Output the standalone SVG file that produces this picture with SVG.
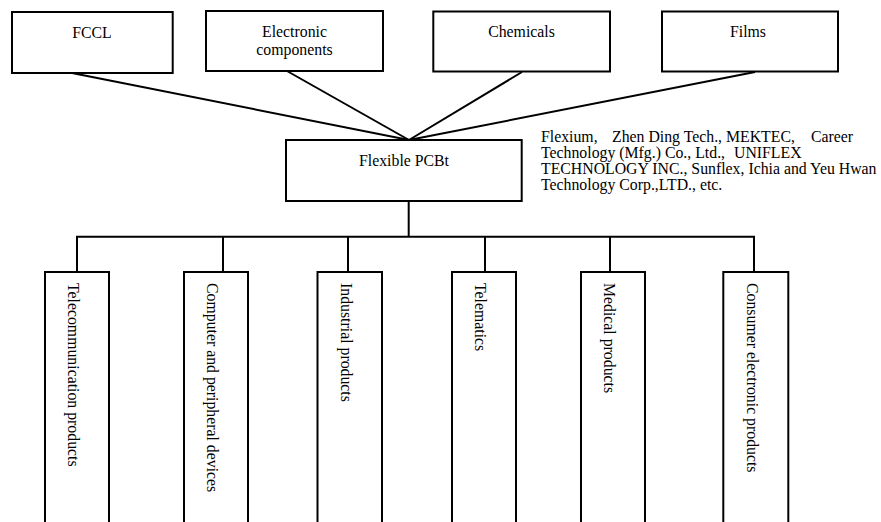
<svg xmlns="http://www.w3.org/2000/svg" width="881" height="522" viewBox="0 0 881 522" font-family="'Liberation Serif', 'DejaVu Serif', serif" font-size="15.8">
<style>
.box{fill:#fff;stroke:#000;stroke-width:2}
.ln{stroke:#000;stroke-width:2;fill:none}
.c{text-anchor:middle}
</style>
<rect width="881" height="522" fill="#fff"/>
<g id="connectors">
<line class="ln" x1="72" y1="73" x2="409" y2="140"/>
<line class="ln" x1="287" y1="71" x2="409" y2="140"/>
<line class="ln" x1="522" y1="72" x2="409" y2="140"/>
<line class="ln" x1="755" y1="72" x2="409" y2="140"/>
<line class="ln" x1="408.7" y1="201" x2="408.7" y2="236.7"/>
<line class="ln" x1="76" y1="236.7" x2="755" y2="236.7"/>
<line class="ln" x1="77" y1="236.7" x2="77" y2="272"/>
<line class="ln" x1="223" y1="236.7" x2="223" y2="272"/>
<line class="ln" x1="348" y1="236.7" x2="348" y2="272"/>
<line class="ln" x1="485" y1="236.7" x2="485" y2="272"/>
<line class="ln" x1="610" y1="236.7" x2="610" y2="272"/>
<line class="ln" x1="754" y1="236.7" x2="754" y2="272"/>
</g>
<g id="fccl"><rect class="box" x="12" y="12" width="160.7" height="61"/><text class="c" x="92" y="37.5">FCCL</text></g>
<g id="electronic"><rect class="box" x="206" y="11" width="177" height="60"/><text class="c" x="294.5" y="36.7">Electronic</text><text class="c" x="294.5" y="55">components</text></g>
<g id="chemicals"><rect class="box" x="433.3" y="11.5" width="176.7" height="60"/><text class="c" x="521.5" y="36.7">Chemicals</text></g>
<g id="films"><rect class="box" x="662" y="11.5" width="176" height="60"/><text class="c" x="748" y="36.7">Films</text></g>
<g id="flexible-pcb"><rect class="box" x="286" y="140" width="235.7" height="61"/><text class="c" x="404" y="166">Flexible PCBt</text></g>
<g id="makers-note"><text x="541" y="141.5">Flexium,</text><text x="612" y="141.5">Zhen Ding Tech., MEKTEC,</text><text x="811" y="141.5">Career</text>
<text x="541" y="157.7">Technology (Mfg.) Co., Ltd.,</text><text x="734" y="157.7">UNIFLEX</text>
<text x="541" y="173.9">TECHNOLOGY INC., Sunflex, Ichia and Yeu Hwan</text>
<text x="541" y="190.1">Technology Corp.,LTD., etc.</text></g>
<g id="telecom"><rect class="box" x="45" y="272" width="64" height="260"/><text transform="translate(68,283) rotate(90)">Telecommunication products</text></g>
<g id="computer"><rect class="box" x="184" y="272" width="64" height="260"/><text transform="translate(207,283) rotate(90)">Computer and peripheral devices</text></g>
<g id="industrial"><rect class="box" x="317.5" y="272" width="64.5" height="260"/><text transform="translate(341,283) rotate(90)">Industrial products</text></g>
<g id="telematics"><rect class="box" x="452" y="272" width="64" height="260"/><text transform="translate(475,283) rotate(90)">Telematics</text></g>
<g id="medical"><rect class="box" x="581" y="272" width="64" height="260"/><text transform="translate(604,283) rotate(90)">Medical products</text></g>
<g id="consumer"><rect class="box" x="723.3" y="272" width="65" height="260"/><text transform="translate(747,283) rotate(90)">Consumer electronic products</text></g>
</svg>
